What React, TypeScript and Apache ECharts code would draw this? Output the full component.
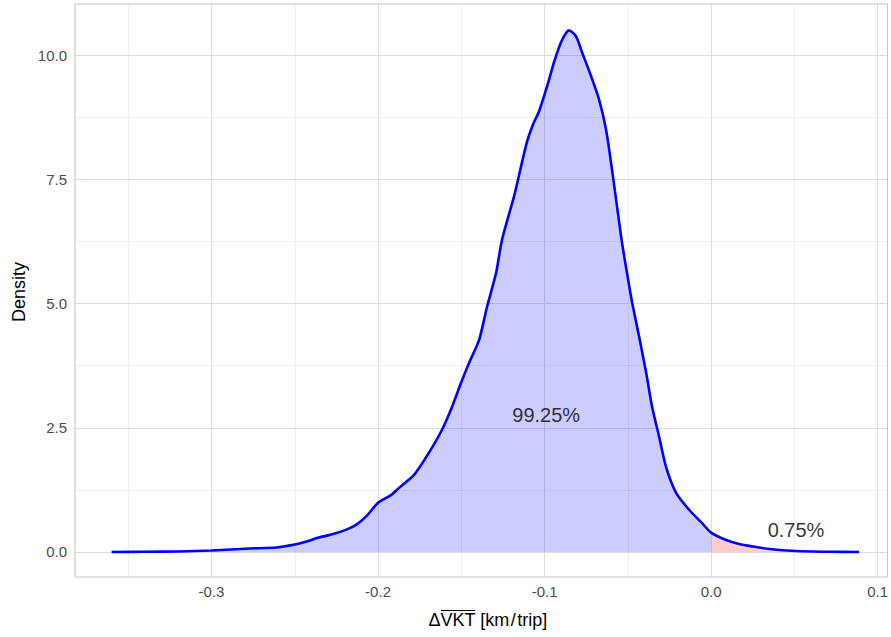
import React, { useEffect, useRef } from "react";
import * as echarts from "echarts";

// Kernel density estimate of ΔVKT (km/trip)
const densityX = [
  -0.36, -0.34, -0.32, -0.3, -0.277, -0.261, -0.25, -0.244, -0.2355, -0.228,
  -0.219, -0.213, -0.207, -0.2, -0.192, -0.1874, -0.1784, -0.1694, -0.1616,
  -0.1556, -0.1502, -0.1453, -0.1393, -0.1345, -0.1291, -0.1255, -0.118,
  -0.111, -0.107, -0.1033, -0.0985, -0.0943, -0.0901, -0.087, -0.0853,
  -0.0811, -0.0775, -0.0721, -0.0673, -0.0631, -0.0595, -0.0565, -0.0535,
  -0.0498, -0.0474, -0.0432, -0.039, -0.0354, -0.0312, -0.027, -0.021,
  -0.0132, -0.0054, 0.0, 0.009, 0.0168, 0.025, 0.035, 0.051, 0.07, 0.0889,
];
const densityY = [
  0.0, 0.005, 0.01, 0.03, 0.07, 0.09, 0.15, 0.2, 0.29, 0.35,
  0.45, 0.55, 0.72, 0.99, 1.15, 1.29, 1.55, 2.0, 2.46,
  2.92, 3.4, 3.81, 4.27, 4.94, 5.62, 6.29, 7.2,
  8.2, 8.6, 8.87, 9.37, 9.86, 10.26, 10.45, 10.5,
  10.38, 10.06, 9.58, 9.11, 8.51, 7.7, 6.96, 6.23,
  5.48, 5.02, 4.33, 3.61, 2.92, 2.32, 1.71, 1.19,
  0.85, 0.58, 0.39, 0.24, 0.16, 0.11, 0.06, 0.02, 0.005, 0.0,
];
const splitAt = 0.0;

const xTicks = [-0.3, -0.2, -0.1, 0.0, 0.1];
const xMinorTicks = [-0.35, -0.25, -0.15, -0.05, 0.05];
const yTicks = [0, 2.5, 5, 7.5, 10];
const yMinorTicks = [1.25, 3.75, 6.25, 8.75];

const annotationLabels = ["99.25%", "0.75%"];
const annotationX = [-0.099, 0.051];
const annotationY = [2.76, 0.44];

const xTitleParts = ["\u0394", "VKT", " [km\u200A/\u200Atrip]"];
const yTitle = "Density";

const FONT = '"Liberation Sans", Arial, Helvetica, sans-serif';

export default function App() {
  const ref = useRef<HTMLDivElement | null>(null);

  useEffect(() => {
    if (!ref.current) return;
    const chart = echarts.init(ref.current, null, { renderer: "svg" });

    const pts = densityX.map((x, i) => [x, densityY[i]]);
    const left = pts.filter((p) => p[0] <= splitAt);
    const right = pts.filter((p) => p[0] >= splitAt);

    const majorStyle = { color: "#dedede", width: 1, type: "solid" };
    const minorStyle = { color: "#ececec", width: 0.8, type: "solid" };
    const gridLines = [
      ...xMinorTicks.map((v) => ({ xAxis: v, lineStyle: minorStyle })),
      ...yMinorTicks.map((v) => ({ yAxis: v, lineStyle: minorStyle })),
      ...xTicks.map((v) => ({ xAxis: v, lineStyle: majorStyle })),
      ...yTicks.map((v) => ({ yAxis: v, lineStyle: majorStyle })),
    ];

    // measure x-title parts for the overline
    const titleSize = 18;
    const cv = document.createElement("canvas").getContext("2d")!;
    cv.font = `${titleSize}px ${FONT}`;
    const w = xTitleParts.map((t) => cv.measureText(t).width);
    const total = w.reduce((a, b) => a + b, 0);
    const cx = 488;
    const ty = 620;
    const x0 = cx - total / 2;

    const smooth = 0.25;

    chart.setOption({
      animation: false,
      backgroundColor: "#ffffff",
      grid: {
        left: 75,
        right: 3,
        top: 4,
        bottom: 60,
        show: true,
        borderColor: "#c4c4c4",
        borderWidth: 1,
        backgroundColor: "transparent",
        z: 10,
      },
      xAxis: {
        type: "value",
        min: -0.382,
        max: 0.106,
        axisLine: { show: false },
        splitLine: { show: false },
        axisTick: {
          show: true,
          customValues: xTicks,
          length: 4,
          lineStyle: { color: "#b3b3b3" },
        },
        axisLabel: {
          customValues: xTicks,
          formatter: (v: number) => v.toFixed(1),
          fontFamily: FONT,
          fontSize: 15,
          color: "#4d4d4d",
          margin: 7,
        },
      },
      yAxis: {
        type: "value",
        min: -0.504,
        max: 11.03,
        axisLine: { show: false },
        splitLine: { show: false },
        axisTick: {
          show: true,
          customValues: yTicks,
          length: 4,
          lineStyle: { color: "#b3b3b3" },
        },
        axisLabel: {
          customValues: yTicks,
          formatter: (v: number) => v.toFixed(1),
          fontFamily: FONT,
          fontSize: 15,
          color: "#4d4d4d",
          margin: 8,
        },
      },
      series: [
        {
          type: "line",
          data: [],
          z: 1,
          silent: true,
          markLine: {
            z: 1,
            silent: true,
            symbol: ["none", "none"],
            label: { show: false },
            animation: false,
            data: gridLines,
          },
        },
        {
          type: "line",
          data: left,
          z: 2,
          smooth,
          showSymbol: false,
          silent: true,
          lineStyle: { width: 0 },
          areaStyle: { color: "rgba(0,0,255,0.2)", opacity: 1 },
        },
        {
          type: "line",
          data: right,
          z: 2,
          smooth,
          showSymbol: false,
          silent: true,
          lineStyle: { width: 0 },
          areaStyle: { color: "rgba(255,0,0,0.2)", opacity: 1 },
        },
        {
          type: "line",
          data: pts,
          z: 3,
          smooth,
          showSymbol: false,
          silent: true,
          lineStyle: { color: "#0000ff", width: 2.6 },
        },
        {
          type: "scatter",
          z: 6,
          symbolSize: 1,
          silent: true,
          itemStyle: { color: "rgba(0,0,0,0)" },
          data: annotationLabels.map((name, i) => ({
            name,
            value: [annotationX[i], annotationY[i]],
          })),
          label: {
            show: true,
            position: "inside",
            formatter: "{b}",
            fontFamily: FONT,
            fontSize: 20,
            color: "#000000",
          },
        },
      ],
      graphic: [
        {
          type: "text",
          x: 19,
          y: 292,
          rotation: Math.PI / 2,
          style: {
            text: yTitle,
            fontFamily: FONT,
            fontSize: 18,
            fill: "#000000",
            textAlign: "center",
            textVerticalAlign: "middle",
          },
        },
        {
          type: "text",
          x: x0,
          y: ty,
          style: {
            text: xTitleParts.join(""),
            fontFamily: FONT,
            fontSize: titleSize,
            fill: "#000000",
            textAlign: "left",
            textVerticalAlign: "middle",
          },
        },
        {
          type: "line",
          shape: {
            x1: x0 + w[0] + 0.5,
            y1: ty - 9.5,
            x2: x0 + w[0] + w[1] - 0.5,
            y2: ty - 9.5,
          },
          style: { stroke: "#000000", lineWidth: 1.2 },
        },
      ],
    });

    return () => chart.dispose();
  }, []);

  return (
    <div
      ref={ref}
      style={{ position: "fixed", left: 0, top: 0, width: 891, height: 637 }}
    />
  );
}
